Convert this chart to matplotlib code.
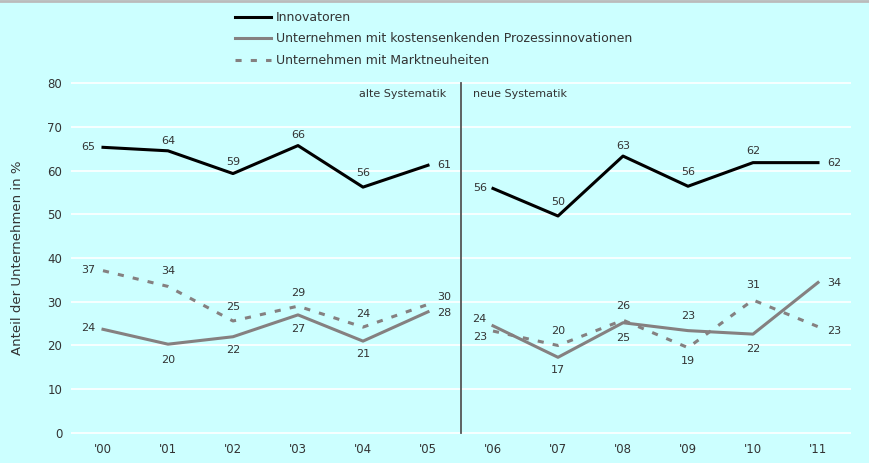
import matplotlib
matplotlib.use("Agg")
import matplotlib.pyplot as plt
from matplotlib.lines import Line2D

years = ["'00", "'01", "'02", "'03", "'04", "'05", "'06", "'07", "'08", "'09", "'10", "'11"]
innovatoren = [65.3, 64.5, 59.3, 65.7, 56.2, 61.2, 55.9, 49.6, 63.3, 56.4, 61.8, 61.8]
prozess = [23.7, 20.3, 22.0, 27.0, 21.0, 27.7, 24.5, 17.3, 25.2, 23.4, 22.6, 34.4]
markt = [37.1, 33.5, 25.6, 29.0, 24.2, 29.4, 23.3, 20.0, 25.8, 19.5, 30.4, 24.3]
innov_labels = ["65", "64", "59", "66", "56", "61", "56", "50", "63", "56", "62", "62"]
prozess_labels = ["24", "20", "22", "27", "21", "28", "24", "17", "25", "23", "22", "34"]
markt_labels = ["37", "34", "25", "29", "24", "30", "23", "20", "26", "19", "31", "23"]
series_names = ["Innovatoren",
                "Unternehmen mit kostensenkenden Prozessinnovationen",
                "Unternehmen mit Marktneuheiten"]
yticks = [0, 10, 20, 30, 40, 50, 60, 70, 80]

# label placement offsets (pixels, dx, dy up)
innov_off = [(-15, 0), (0, 10), (0, 12), (0, 11), (0, 14), (16, 0),
             (-13, 0), (0, 14), (0, 10), (0, 14), (0, 12), (16, 0)]
prozess_off = [(-15, 1), (0, -16), (0, -13), (0, -14), (0, -13), (16, -1),
               (-14, 7), (0, -13), (0, -15), (0, 15), (0, -15), (16, -1)]
markt_off = [(-15, 1), (0, 15), (0, 14), (0, 13), (0, 13), (16, 7),
             (-13, -6), (0, 14), (0, 14), (0, -13), (0, 15), (16, -4)]

BG = "#ccffff"
GRAY = "#858080"
TXT = "#333333"

fig = plt.figure(figsize=(8.69, 4.63), dpi=100, facecolor=BG)
ax = fig.add_axes([70.5 / 869, 1 - 434.3 / 463, 780 / 869, 352.6 / 463])
ax.set_facecolor(BG)

x = list(range(len(years)))
seg1 = slice(0, 6)
seg2 = slice(6, 12)
dash = (0, (2, 3))
for seg in (seg1, seg2):
    ax.plot(x[seg], innovatoren[seg], color="black", lw=2.2, zorder=4)
    ax.plot(x[seg], prozess[seg], color=GRAY, lw=2.2, zorder=3)
    ax.plot(x[seg], markt[seg], color=GRAY, lw=2.2, linestyle=dash, zorder=3)

def lab(vals, labels, offs):
    for xi, v, t, (dx, dy) in zip(x, vals, labels, offs):
        ax.annotate(t, (xi, v), xytext=(dx * 0.72, dy * 0.72), textcoords="offset points",
                    ha="center", va="center", fontsize=8, color=TXT, zorder=5)

lab(innovatoren, innov_labels, innov_off)
lab(prozess, prozess_labels, prozess_off)
lab(markt, markt_labels, markt_off)

ax.set_xlim(-0.5, 11.5)
ax.set_ylim(-0.3, 80.3)
ax.set_yticks(yticks)
ax.set_xticks(x)
ax.set_xticklabels(years)
ax.grid(axis="y", color="white", lw=1.2)
ax.set_axisbelow(True)
for s in ax.spines.values():
    s.set_visible(False)
ax.tick_params(axis="both", length=0, labelsize=8.5, colors=TXT)
ax.tick_params(axis="y", pad=6)
ax.tick_params(axis="x", pad=6)
ax.set_ylabel("Anteil der Unternehmen in %", fontsize=9.5, color=TXT, labelpad=17)

ax.plot([5.5, 5.5], [0, 80], color="#555555", lw=1.3, zorder=2)
ax.annotate("alte Systematik", (5.5, 80), xytext=(-10, -8), textcoords="offset points",
            ha="right", va="center", fontsize=8, color=TXT)
ax.annotate("neue Systematik", (5.5, 80), xytext=(9, -8), textcoords="offset points",
            ha="left", va="center", fontsize=8, color=TXT)

handles = [Line2D([], [], color="black", lw=2.2),
           Line2D([], [], color=GRAY, lw=2.2),
           Line2D([], [], color=GRAY, lw=2.2, linestyle=dash)]
fig.legend(handles, series_names, loc="upper left", bbox_to_anchor=(235 / 869, 1 - 11 / 463),
           frameon=False, fontsize=9, handlelength=2.9, handletextpad=0.4,
           labelspacing=0.68, borderpad=0, borderaxespad=0, labelcolor=TXT)

fig.add_artist(Line2D([0, 1], [1 - 1 / 463, 1 - 1 / 463], transform=fig.transFigure,
                      color="#bbbbbb", lw=2))

fig.savefig("out.png", dpi=100, facecolor=BG)
